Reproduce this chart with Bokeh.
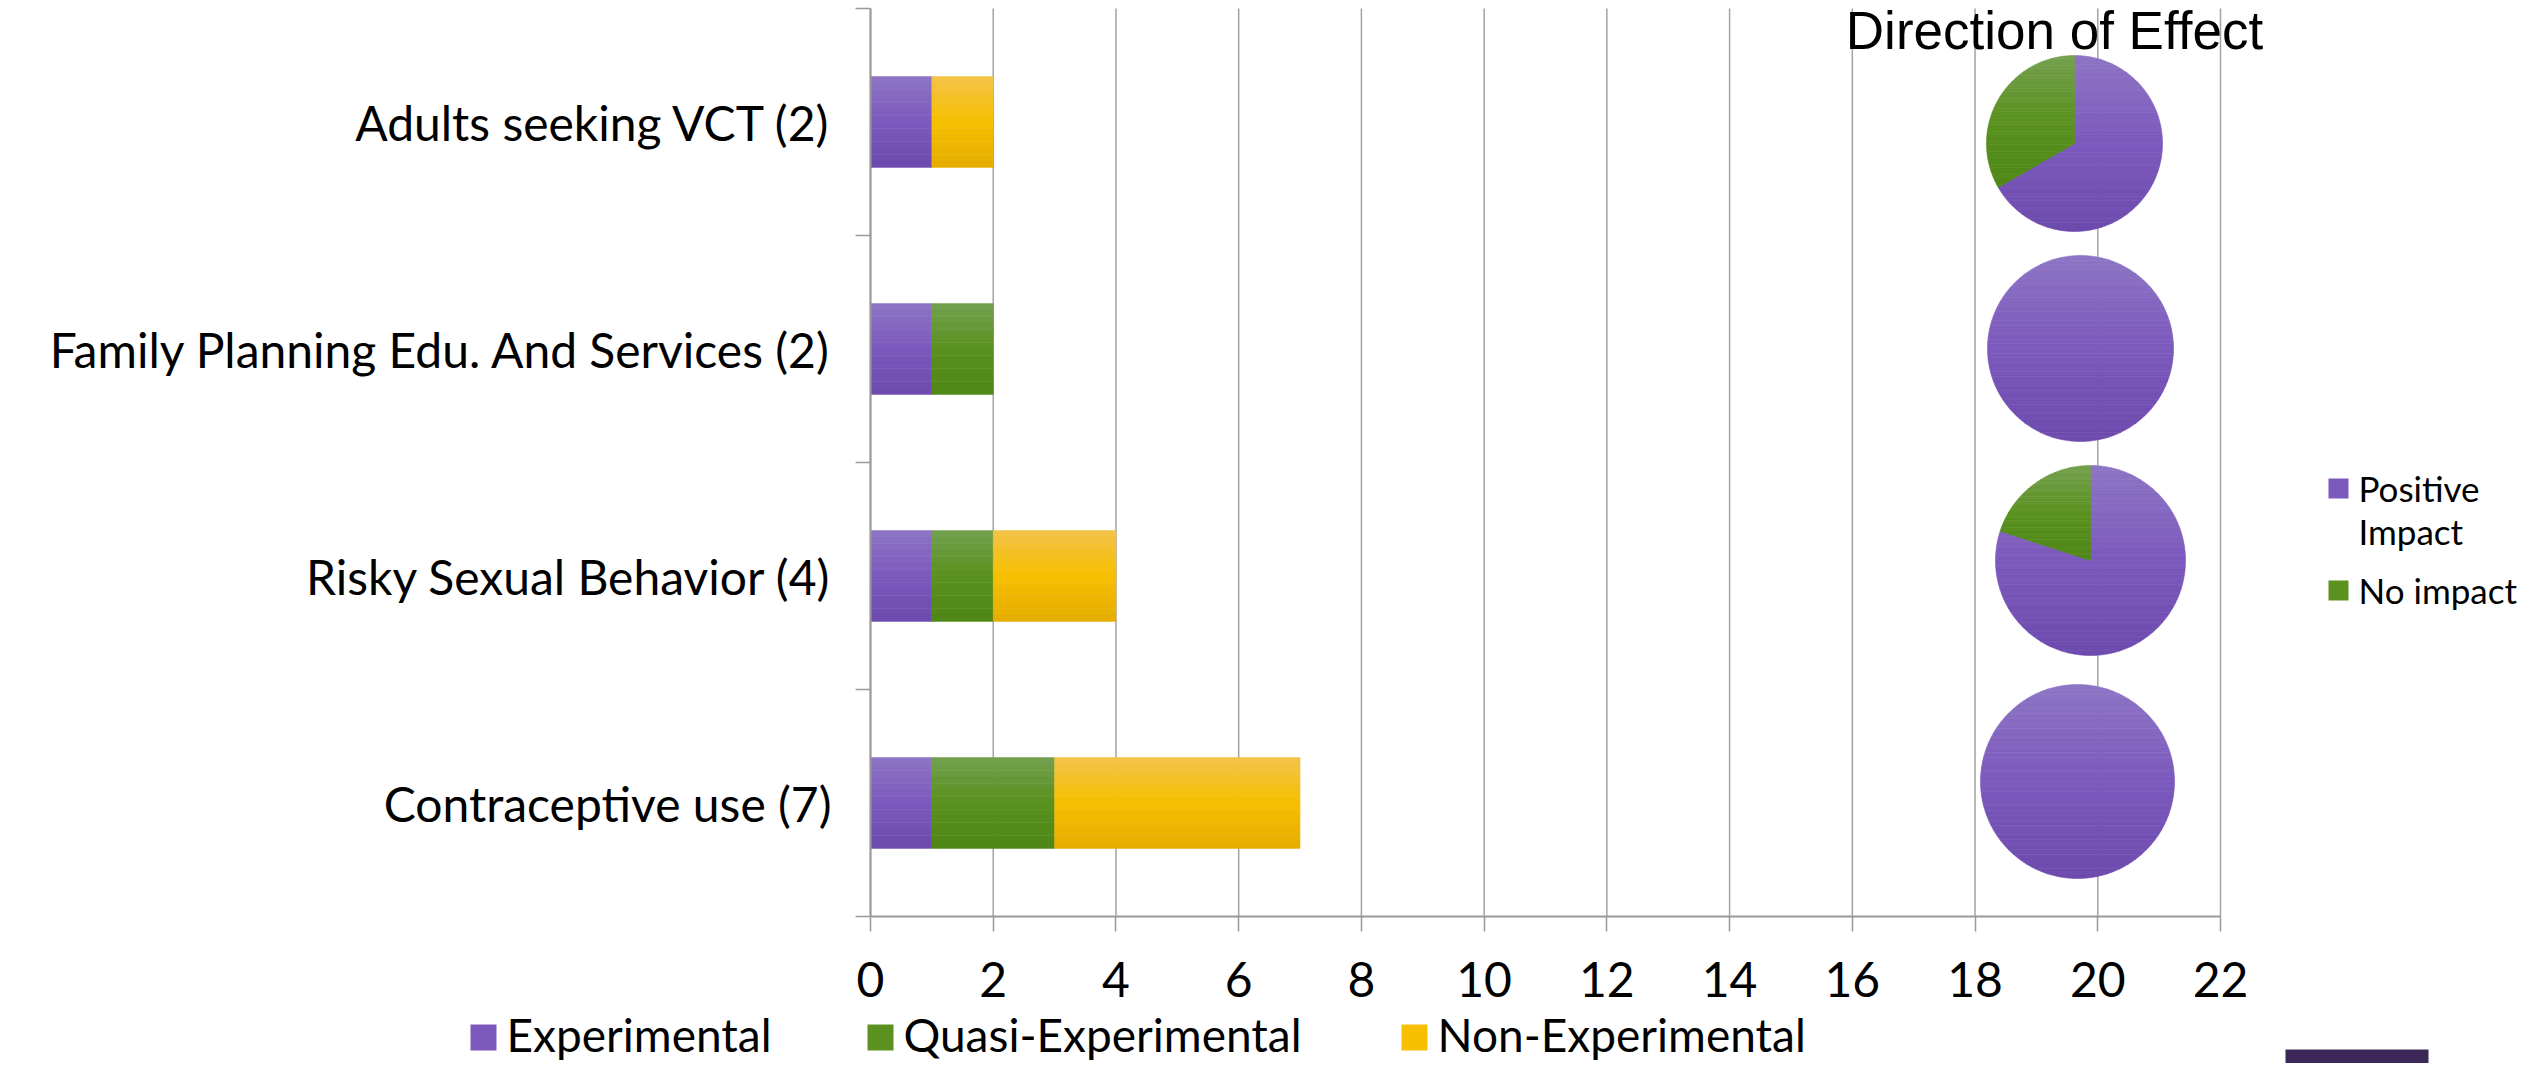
import math
from bokeh.plotting import figure
from bokeh.models import Range1d, FixedTicker, ColumnDataSource
from bokeh.embed import file_html
from bokeh.resources import INLINE
from bokeh.core.properties import value

# ---------------- data ----------------
categories = ["Adults seeking VCT (2)",
              "Family Planning Edu. And Services (2)",
              "Risky Sexual Behavior (4)",
              "Contraceptive use (7)"]          # top to bottom
experimental = [1, 1, 1, 1]
quasi_experimental = [0, 1, 1, 2]
non_experimental = [1, 0, 2, 4]
series_names = ["Experimental", "Quasi-Experimental", "Non-Experimental"]
x_ticks = [0, 2, 4, 6, 8, 10, 12, 14, 16, 18, 20, 22]

pie_title = "Direction of Effect"
pie_series = ["Positive Impact", "No impact"]
positive_impact = [2, 1, 4, 1]
no_impact = [1, 0, 1, 0]

# ---------------- layout / style (canvas pixels) ----------------
W, H = 2526, 1063
X0_PX, XMAX_PX = 870, 2220          # where value 0 and 22 sit
Y_TOP_PX, Y_BOT_PX = 8, 916         # plot area top / x-axis line
X_MAX = 22
FONT = "Lato"

GRAD = {
    "Experimental": ["#8D75C4", "#7C59BD", "#6D4AAD"],
    "Quasi-Experimental": ["#74A04F", "#5A911F", "#4E8716"],
    "Non-Experimental": ["#F3C34A", "#F6BF00", "#E6AD00"],
}
PIE_GRAD = [GRAD["Experimental"], GRAD["Quasi-Experimental"]]
PIE_CX = [2074, 2080, 2090, 2077]
PIE_CY = [143, 348, 560, 781]
PIE_R = [88, 93, 95, 97]
GRID_COLOR = "#A3A3A3"
AXIS_COLOR = "#999999"
N_STRIPES = 14
BAR_H = 0.4
LEG_X = [470, 867, 1401]            # bottom legend swatch lefts
LEG_Y = 1034                        # bottom legend centre line
PLEG_X = 2328                       # pie legend swatch left


def hex2rgb(h):
    h = h.lstrip("#")
    return tuple(int(h[i:i + 2], 16) for i in (0, 2, 4))


def lerp(c1, c2, t):
    a, b = hex2rgb(c1), hex2rgb(c2)
    return "#%02x%02x%02x" % tuple(round(a[i] + (b[i] - a[i]) * t) for i in range(3))


def grad_color(stops, t):
    t = min(max(t, 0.0), 1.0)
    if t < 0.5:
        return lerp(stops[0], stops[1], t / 0.5)
    return lerp(stops[1], stops[2], (t - 0.5) / 0.5)


n = len(categories)
y_center = [n - 1 - i + 0.5 for i in range(n)]
ppu_x = (XMAX_PX - X0_PX) / X_MAX
ppu_y = (Y_BOT_PX - Y_TOP_PX) / n

p = figure(width=W, height=H, output_backend="svg", toolbar_location=None,
           x_range=Range1d(-X0_PX / ppu_x, (W - X0_PX) / ppu_x),
           y_range=Range1d(-(H - Y_BOT_PX) / ppu_y, n + Y_TOP_PX / ppu_y),
           min_border=0)
p.outline_line_color = None
p.background_fill_color = "white"
p.border_fill_color = "white"

# pixel coordinate system (canvas pixels, y measured upward) for pies & legends
p.extra_x_ranges = {"px": Range1d(0, W)}
p.extra_y_ranges = {"py": Range1d(0, H)}


def up(y):
    return H - y


# ---------------- axes (drawn at fixed data positions) ----------------
p.xaxis.fixed_location = 0
p.xaxis.ticker = FixedTicker(ticks=x_ticks)
p.xaxis.bounds = (0, X_MAX)
p.xaxis.axis_line_color = AXIS_COLOR
p.xaxis.axis_line_width = 2
p.xaxis.major_tick_line_color = AXIS_COLOR
p.xaxis.major_tick_line_width = 1.5
p.xaxis.major_tick_out = 15
p.xaxis.major_tick_in = 0
p.xaxis.minor_tick_line_color = None
p.xaxis.major_label_text_font = FONT
p.xaxis.major_label_text_font_size = "48px"
p.xaxis.major_label_text_color = "black"
p.xaxis.major_label_standoff = 30

p.yaxis.fixed_location = 0
p.yaxis.ticker = FixedTicker(ticks=y_center, minor_ticks=list(range(n + 1)))
p.yaxis.bounds = (0, n)
p.yaxis.major_label_overrides = {yc: c for yc, c in zip(y_center, categories)}
p.yaxis.axis_line_color = AXIS_COLOR
p.yaxis.axis_line_width = 2
p.yaxis.major_tick_line_color = None
p.yaxis.major_tick_out = 15
p.yaxis.major_tick_in = 0
p.yaxis.minor_tick_line_color = AXIS_COLOR
p.yaxis.minor_tick_line_width = 1.5
p.yaxis.minor_tick_out = 15
p.yaxis.minor_tick_in = 0
p.yaxis.major_label_text_font = FONT
p.yaxis.major_label_text_font_size = "48px"
p.yaxis.major_label_text_color = "black"
p.yaxis.major_label_standoff = 24

p.xgrid.grid_line_color = None
p.ygrid.grid_line_color = None
# vertical grid lines, spanning only the plot area
p.segment(x0=x_ticks, x1=x_ticks, y0=[0] * len(x_ticks), y1=[n] * len(x_ticks),
          line_color=GRID_COLOR, line_width=1.5, level="underlay")

# ---------------- stacked bars (vertical gradient via thin stripes) ----------------
values = [experimental, quasi_experimental, non_experimental]
left = [0] * n
for name, vals in zip(series_names, values):
    rows = dict(y=[], left=[], right=[], color=[])
    for k in range(N_STRIPES):
        t = (k + 0.5) / N_STRIPES
        col = grad_color(GRAD[name], t)
        for i in range(n):
            if vals[i] <= 0:
                continue
            rows["y"].append(y_center[i] + BAR_H / 2 - t * BAR_H)
            rows["left"].append(left[i])
            rows["right"].append(left[i] + vals[i])
            rows["color"].append(col)
    p.hbar(y="y", left="left", right="right", height=BAR_H / N_STRIPES,
           fill_color="color", line_color="color", line_width=0.5,
           source=ColumnDataSource(rows))
    left = [left[i] + vals[i] for i in range(n)]

# bottom legend
for name, lx in zip(series_names, LEG_X):
    p.rect(x=[lx + 13], y=[up(LEG_Y + 3)], width=26, height=26,
           width_units="screen", height_units="screen",
           fill_color=GRAD[name][1], line_color=None,
           x_range_name="px", y_range_name="py")
p.text(x=[lx + 36 for lx in LEG_X], y=[up(LEG_Y)] * len(LEG_X), text=series_names,
       text_align="left", text_baseline="middle", text_font=value(FONT),
       text_font_size="46px", text_color="black",
       x_range_name="px", y_range_name="py")


# ---------------- pies (vertical gradient via clipped bands) ----------------
def clip(poly, y0, keep_above):
    out = []
    for i in range(len(poly)):
        cur, prev = poly[i], poly[i - 1]
        cin = cur[1] >= y0 if keep_above else cur[1] <= y0
        pin = prev[1] >= y0 if keep_above else prev[1] <= y0
        if cin != pin:
            t = (y0 - prev[1]) / (cur[1] - prev[1])
            out.append((prev[0] + t * (cur[0] - prev[0]), y0))
        if cin:
            out.append(cur)
    return out


pxs, pys, pcols = [], [], []
N_BANDS = 40
for i in range(n):
    vals = [positive_impact[i], no_impact[i]]
    tot = sum(vals)
    cx, cy, r = PIE_CX[i], up(PIE_CY[i]), PIE_R[i]
    c0 = 0.0
    for j, v in enumerate(vals):
        if v <= 0:
            continue
        frac = v / tot
        a_hi = 90 - 360 * c0            # slices run clockwise from 12 o'clock
        a_lo = a_hi - 360 * frac
        steps = max(6, int(360 * frac / 2))
        poly = [] if frac >= 1 else [(cx, cy)]
        for k in range(steps + 1):
            a = math.radians(a_lo + (a_hi - a_lo) * k / steps)
            poly.append((cx + r * math.cos(a), cy + r * math.sin(a)))
        ymin = min(q[1] for q in poly)
        ymax = max(q[1] for q in poly)
        hgt = ymax - ymin
        for b in range(N_BANDS):
            y_hi = ymax - hgt * b / N_BANDS
            y_lo = ymax - hgt * (b + 1) / N_BANDS
            band = clip(clip(poly, y_lo, True), y_hi, False)
            if len(band) < 3:
                continue
            pxs.append([q[0] for q in band])
            pys.append([q[1] for q in band])
            pcols.append(grad_color(PIE_GRAD[j], (b + 0.5) / N_BANDS))
        c0 += frac
p.patches(xs="xs", ys="ys", fill_color="c", line_color="c", line_width=0.6,
          source=ColumnDataSource(dict(xs=pxs, ys=pys, c=pcols)),
          x_range_name="px", y_range_name="py")

p.text(x=[2054], y=[up(30)], text=[pie_title], text_align="center",
       text_baseline="middle", text_font=value("Liberation Sans"),
       text_font_size="53px", text_color="black",
       x_range_name="px", y_range_name="py")

# pie legend
p.rect(x=[PLEG_X + 10, PLEG_X + 10], y=[up(488), up(590)], width=20, height=20,
       width_units="screen", height_units="screen",
       fill_color=[PIE_GRAD[0][1], PIE_GRAD[1][1]],
       line_color=None, x_range_name="px", y_range_name="py")
pie_lines = pie_series[0].split(" ") + [pie_series[1]]
p.text(x=[PLEG_X + 30] * 3, y=[up(487), up(530), up(589)],
       text=pie_lines, text_align="left", text_baseline="middle",
       text_font=value(FONT), text_font_size="35px", text_color="black",
       x_range_name="px", y_range_name="py")

# slide decoration box at the bottom right
p.quad(left=[2285], right=[2428], bottom=[0], top=[up(1049)],
       fill_color="#3C2858", line_color=None,
       x_range_name="px", y_range_name="py")

open("out.html", "w").write(file_html(p, INLINE))
